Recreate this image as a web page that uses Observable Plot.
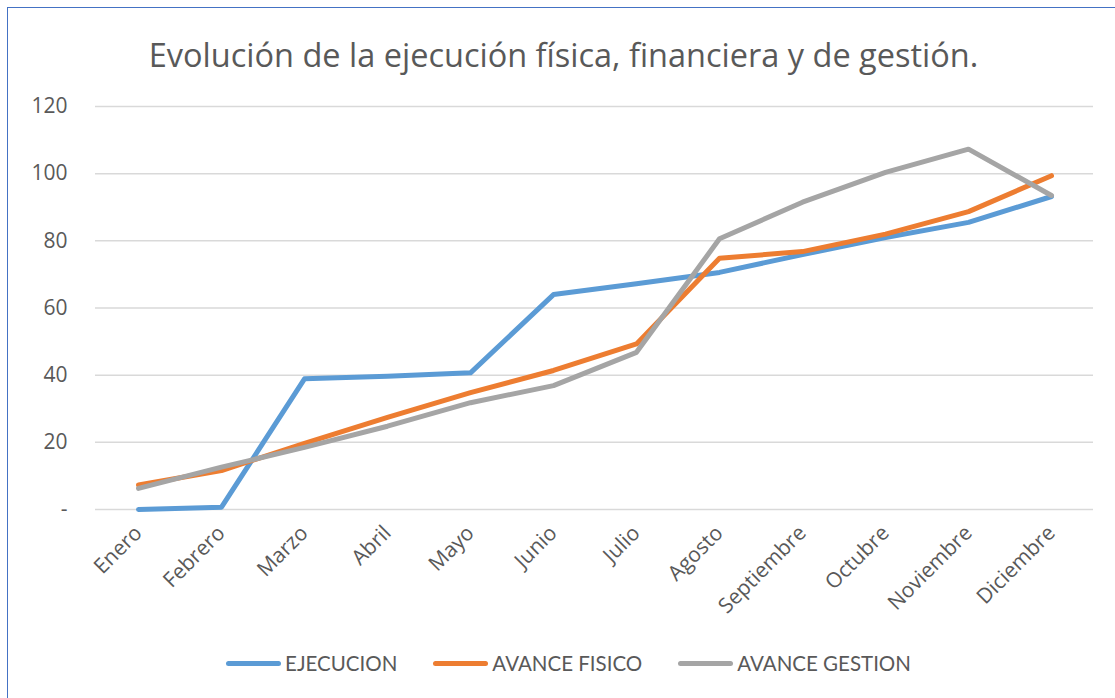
<!DOCTYPE html>
<html>
<head>
<meta charset="utf-8">
<script src="https://cdn.jsdelivr.net/npm/d3@7"></script>
<script src="https://cdn.jsdelivr.net/npm/@observablehq/plot@0.6"></script>
<style>
  html, body { margin: 0; padding: 0; background: #fff; overflow: hidden; }
  #wrap { position: relative; width: 1115px; height: 698px; overflow: hidden; background: #fff; }
  #frame { position: absolute; left: 7px; top: 7px; width: 1300px; height: 900px; border: 1px solid #4472c4; box-sizing: border-box; }
  #title { position: absolute; left: 0; top: 33px; width: 1127px; text-align: center; font-family: "Open Sans", sans-serif; font-size: 32.5px; line-height: 44px; color: #595959; white-space: nowrap; }
  #chart { position: absolute; left: 0; top: 0; }
  #chart svg text { font-size: 21px; }
  #legend { position: absolute; left: 11px; top: 651px; width: 1115px; display: flex; justify-content: center; font-family: Lato, sans-serif; font-size: 20.5px; color: #595959; }
  .item { display: flex; align-items: center; margin: 0 18px; }
  .sw { width: 55px; height: 5px; border-radius: 3px; margin-right: 4px; }
</style>
</head>
<body>
<div id="wrap">
  <div id="frame"></div>
  <div id="title">Evolución de la ejecución física, financiera y de gestión.</div>
  <div id="chart"></div>
  <div id="legend"></div>
</div>
<script>
const months = ["Enero","Febrero","Marzo","Abril","Mayo","Junio","Julio","Agosto","Septiembre","Octubre","Noviembre","Diciembre"];
const seriesNames = ["EJECUCION","AVANCE FISICO","AVANCE GESTION"];
const seriesColors = ["#5b9bd5","#ed7d31","#a5a5a5"];
const ejecucion = [0, 0.7, 38.9, 39.7, 40.7, 64.0, 67.2, 70.6, 75.9, 81.0, 85.5, 93.2];
const avanceFisico = [7.3, 11.6, 19.7, 27.4, 34.8, 41.4, 49.3, 74.8, 76.8, 82.0, 88.7, 99.4];
const avanceGestion = [6.3, 12.6, 18.5, 24.8, 31.8, 36.9, 46.8, 80.6, 91.5, 100.4, 107.3, 93.5];
const yTicks = [0, 20, 40, 60, 80, 100, 120];

const allSeries = [ejecucion, avanceFisico, avanceGestion];
const data = [];
allSeries.forEach((vals, s) => vals.forEach((v, i) => data.push({month: months[i], value: v, series: seriesNames[s]})));

const chart = Plot.plot({
  width: 1115,
  height: 640,
  marginLeft: 95,
  marginRight: 22,
  marginTop: 106,
  marginBottom: 131,
  style: {fontFamily: "'Open Sans', sans-serif", fontSize: "21px", color: "#595959", background: "transparent"},
  x: {type: "point", domain: months, padding: 0.5, label: null},
  y: {domain: [0, 120], label: null},
  color: {domain: seriesNames, range: seriesColors},
  marks: [
    Plot.gridY(yTicks, {stroke: "#d9d9d9", strokeOpacity: 1, strokeWidth: 1.5}),
    Plot.axisY(yTicks, {tickSize: 0, tickPadding: 28, tickFormat: d => d === 0 ? "-" : String(d), fill: "#595959"}),
    Plot.axisX({tickSize: 0, tickPadding: 20, tickRotate: -45, fill: "#595959"}),
    Plot.lineY(data, {x: "month", y: "value", z: "series", stroke: "series", strokeWidth: 5, strokeLinecap: "round", strokeLinejoin: "round"})
  ]
});
document.getElementById("chart").appendChild(chart);

const legend = document.getElementById("legend");
seriesNames.forEach((n, i) => {
  const it = document.createElement("div");
  it.className = "item";
  const sw = document.createElement("div");
  sw.className = "sw";
  sw.style.background = seriesColors[i];
  const t = document.createElement("span");
  t.textContent = n;
  it.appendChild(sw); it.appendChild(t);
  legend.appendChild(it);
});
</script>
</body>
</html>
